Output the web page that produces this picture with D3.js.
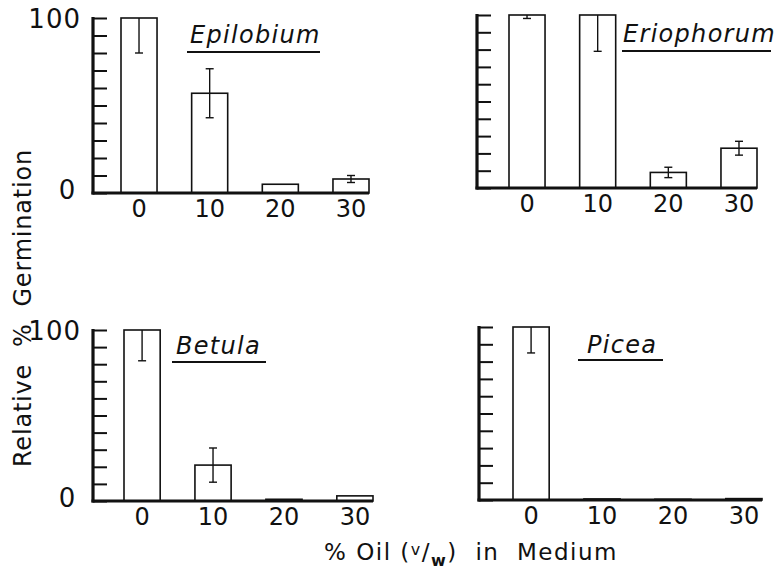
<!DOCTYPE html>
<html>
<head>
<meta charset="utf-8">
<script src="https://cdn.jsdelivr.net/npm/d3@7"></script>
<style>
  html, body { margin: 0; padding: 0; background: #fff; }
  svg { display: block; font-family: "DejaVu Sans", sans-serif; }
</style>
</head>
<body>
<svg id="chart" width="777" height="581"></svg>
<script>
// ---- data ----
const categories = ["0", "10", "20", "30"];
const species = ["Epilobium", "Eriophorum", "Betula", "Picea"];
const epilobiumValues = [100, 57, 5, 8];
const epilobiumErrors = [20, 14, 0, 2];
const eriophorumValues = [100, 100, 9, 23];
const eriophorumErrors = [2, 21, 3, 4];
const betulaValues = [100, 21, 1, 3];
const betulaErrors = [18, 10, 0, 0];
const piceaValues = [100, 0.6, 0.4, 0.8];
const piceaErrors = [15, 0, 0, 0];
const yTickLabels = ["0", "100"];
const yLabel = "Relative  %  Germination";

// ---- layout ----
const panels = [
  { name: species[0], values: epilobiumValues, errors: epilobiumErrors,
    axisX: 93, top: 18, base: 193, barL: 121, barR: 369, yLabels: true,
    title: { x: 190, y: 43, ux1: 187, ux2: 320, uy: 52 } },
  { name: species[1], values: eriophorumValues, errors: eriophorumErrors,
    axisX: 477, top: 15, base: 188, barL: 509, barR: 757, yLabels: false,
    title: { x: 623, y: 42, ux1: 622, ux2: 771, uy: 51 } },
  { name: species[2], values: betulaValues, errors: betulaErrors,
    axisX: 93, top: 330, base: 501, barL: 124, barR: 373, yLabels: true,
    title: { x: 176, y: 354, ux1: 172, ux2: 266, uy: 362 } },
  { name: species[3], values: piceaValues, errors: piceaErrors,
    axisX: 479, top: 327, base: 500, barL: 513, barR: 762, yLabels: false,
    title: { x: 587, y: 353, ux1: 578, ux2: 663, uy: 360 } }
];

const svg = d3.select("#chart");
const ink = "#111";

panels.forEach(p => {
  const g = svg.append("g");
  const x = d3.scaleBand().domain(categories).range([p.barL, p.barR]).paddingInner(0.49).paddingOuter(0);
  const y = d3.scaleLinear().domain([0, 100]).range([p.base, p.top]);

  // bars
  g.selectAll("rect.bar").data(p.values).join("rect")
    .attr("class", "bar")
    .attr("x", (d, i) => x(categories[i]))
    .attr("y", d => y(d))
    .attr("width", x.bandwidth())
    .attr("height", d => y(0) - y(d))
    .attr("fill", "#fff")
    .attr("stroke", ink)
    .attr("stroke-width", 1.6);

  // error bars
  const errData = p.values.map((v, i) => ({ v, e: p.errors[i], c: categories[i] })).filter(d => d.e > 0);
  const eg = g.selectAll("g.err").data(errData).join("g").attr("class", "err");
  eg.append("line")
    .attr("x1", d => x(d.c) + x.bandwidth() / 2)
    .attr("x2", d => x(d.c) + x.bandwidth() / 2)
    .attr("y1", d => y(Math.min(100, d.v + d.e)))
    .attr("y2", d => y(Math.max(0, d.v - d.e)))
    .attr("stroke", ink).attr("stroke-width", 1.4);
  eg.append("line")
    .attr("x1", d => x(d.c) + x.bandwidth() / 2 - 4)
    .attr("x2", d => x(d.c) + x.bandwidth() / 2 + 4)
    .attr("y1", d => y(Math.max(0, d.v - d.e)))
    .attr("y2", d => y(Math.max(0, d.v - d.e)))
    .attr("stroke", ink).attr("stroke-width", 1.4);
  eg.filter(d => d.v + d.e < 100).append("line")
    .attr("x1", d => x(d.c) + x.bandwidth() / 2 - 4)
    .attr("x2", d => x(d.c) + x.bandwidth() / 2 + 4)
    .attr("y1", d => y(d.v + d.e))
    .attr("y2", d => y(d.v + d.e))
    .attr("stroke", ink).attr("stroke-width", 1.4);

  // y axis (ticks pointing inward)
  const yAxis = d3.axisRight(y).tickValues(d3.range(0, 101, 10)).tickSize(14).tickFormat("");
  const ya = g.append("g").attr("transform", `translate(${p.axisX},0)`).call(yAxis);
  ya.select(".domain").remove();
  ya.selectAll(".tick line").attr("stroke", ink).attr("stroke-width", 2);
  g.append("line")
    .attr("x1", p.axisX).attr("x2", p.axisX)
    .attr("y1", y(100) - 1).attr("y2", y(0) + 1.5)
    .attr("stroke", ink).attr("stroke-width", 3.2);
  // baseline
  g.append("line")
    .attr("x1", p.axisX - 1.5).attr("x2", p.barR)
    .attr("y1", y(0)).attr("y2", y(0))
    .attr("stroke", ink).attr("stroke-width", 3);

  // y tick labels
  if (p.yLabels) {
    g.append("text").attr("x", 81).attr("y", y(100) + 1).attr("dy", "0.36em")
      .attr("text-anchor", "end").attr("font-size", 26).attr("letter-spacing", 1).attr("fill", ink).text(yTickLabels[1]);
    g.append("text").attr("x", 67).attr("y", y(0) - 3).attr("dy", "0.36em")
      .attr("text-anchor", "middle").attr("font-size", 26).attr("fill", ink).text(yTickLabels[0]);
  }

  // x tick labels
  g.selectAll("text.xt").data(categories).join("text")
    .attr("class", "xt")
    .attr("x", d => x(d) + x.bandwidth() / 2)
    .attr("y", p.base + 15).attr("dy", "0.36em")
    .attr("text-anchor", "middle").attr("font-size", 24).attr("fill", ink)
    .text(d => d);

  // title with underline
  g.append("text").attr("x", p.title.x).attr("y", p.title.y)
    .attr("font-size", 24).attr("font-style", "italic").attr("letter-spacing", 1.3)
    .attr("fill", ink).text(p.name);
  g.append("line").attr("x1", p.title.ux1).attr("x2", p.title.ux2)
    .attr("y1", p.title.uy).attr("y2", p.title.uy)
    .attr("stroke", ink).attr("stroke-width", 2);
});

// y-axis label
svg.append("text")
  .attr("transform", "translate(31,308) rotate(-90)")
  .attr("text-anchor", "middle").attr("font-size", 24).attr("letter-spacing", 0.8).attr("fill", ink)
  .attr("xml:space", "preserve")
  .text(yLabel);

// x-axis label
const xl = svg.append("text").attr("x", 471).attr("y", 560)
  .attr("text-anchor", "middle").attr("font-size", 23).attr("letter-spacing", 1.5).attr("fill", ink)
  .attr("xml:space", "preserve");
xl.append("tspan").text("% Oil (");
xl.append("tspan").attr("font-size", 16).attr("dy", -5).text("v");
xl.append("tspan").attr("dy", 5).text("/");
xl.append("tspan").attr("font-size", 16).attr("dy", 6).attr("font-weight", "bold").text("w");
xl.append("tspan").attr("dy", -6).text(")  in  Medium");
</script>
</body>
</html>
